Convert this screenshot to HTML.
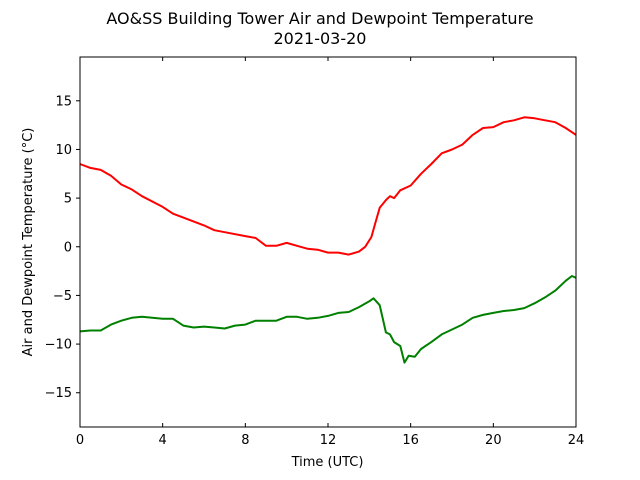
<!DOCTYPE html>
<html><head><meta charset="utf-8"><style>
body{margin:0;background:#fff;}
svg{display:block;font-family:"DejaVu Sans","Liberation Sans",sans-serif;}
</style></head><body>
<svg id="chart" width="640" height="480">
<text x="320" y="24" text-anchor="middle" font-size="16">AO&amp;SS Building Tower Air and Dewpoint Temperature</text>
<text x="320" y="44" text-anchor="middle" font-size="16">2021-03-20</text>
<text x="327.5" y="466" text-anchor="middle" font-size="13">Time (UTC)</text>
<text transform="translate(32,242) rotate(-90)" text-anchor="middle" font-size="13">Air and Dewpoint Temperature (°C)</text>
<g id="ticks"></g>
<g id="lines"></g>
<rect x="80" y="57" width="496" height="370" fill="none" stroke="#000" stroke-width="1"/>
</svg>
<script>
const xTicks=[0,4,8,12,16,20,24];
const yTicks=[-15,-10,-5,0,5,10,15];
const airHours=[0,0.5,1,1.5,2,2.5,3,4,4.5,5,6,6.5,7,8,8.5,9,9.5,10,10.5,11,11.5,12,12.5,13,13.5,13.8,14.1,14.3,14.5,14.8,15,15.2,15.5,16,16.5,17,17.5,18,18.5,19,19.5,20,20.5,21,21.5,22,22.5,23,23.5,24];
const airTemp=[8.5,8.1,7.9,7.3,6.4,5.9,5.2,4.1,3.4,3.0,2.2,1.7,1.5,1.1,0.9,0.1,0.1,0.4,0.1,-0.2,-0.3,-0.6,-0.6,-0.8,-0.5,0,1,2.5,4,4.8,5.2,5,5.8,6.3,7.5,8.5,9.6,10,10.5,11.5,12.2,12.3,12.8,13,13.3,13.2,13,12.8,12.2,11.5];
const dewHours=[0,0.5,1,1.5,2,2.5,3,3.5,4,4.5,5,5.5,6,6.5,7,7.5,8,8.5,9,9.5,10,10.5,11,11.5,12,12.5,13,13.5,14,14.2,14.5,14.8,15,15.2,15.5,15.7,15.9,16.2,16.5,17,17.5,18,18.5,19,19.5,20,20.5,21,21.5,22,22.5,23,23.5,23.8,24];
const dewTemp=[-8.7,-8.6,-8.6,-8,-7.6,-7.3,-7.2,-7.3,-7.4,-7.4,-8.1,-8.3,-8.2,-8.3,-8.4,-8.1,-8,-7.6,-7.6,-7.6,-7.2,-7.2,-7.4,-7.3,-7.1,-6.8,-6.7,-6.2,-5.6,-5.3,-6,-8.8,-9,-9.8,-10.2,-11.9,-11.2,-11.3,-10.5,-9.8,-9,-8.5,-8,-7.3,-7,-6.8,-6.6,-6.5,-6.3,-5.8,-5.2,-4.5,-3.5,-3,-3.2];
const X0=80,X1=576,Y0=427,Y1=57,xMin=0,xMax=24,yMin=-18.52,yMax=19.5;
const xs=h=>X0+(h-xMin)/(xMax-xMin)*(X1-X0);
const ys=v=>Y0-(v-yMin)/(yMax-yMin)*(Y0-Y1);
const NS="http://www.w3.org/2000/svg";
const tg=document.getElementById('ticks'),lg=document.getElementById('lines');
function mk(t,a,p){const e=document.createElementNS(NS,t);for(const k in a)e.setAttribute(k,a[k]);p.appendChild(e);return e;}
xTicks.forEach(t=>{const x=xs(t);
 const a=mk('line',{x1:x,x2:x,y1:Y0,y2:Y0-4,stroke:'#000'},tg);
 
 
 const b=mk('line',{x1:x,x2:x,y1:Y1,y2:Y1+4,stroke:'#000'},tg);
 
 
 const l=mk('text',{x:x,y:Y0+17,'text-anchor':'middle','font-size':13},tg);l.textContent=t;
 
 
});
yTicks.forEach(t=>{const y=ys(t);
 const a=mk('line',{x1:X0,x2:X0-4,y1:y,y2:y,stroke:'#000'},tg);
 
 
 const l=mk('text',{x:X0-8,y:y+4.5,'text-anchor':'end','font-size':13},tg);l.textContent=t<0?'\u2212'+(-t):t;
 
 
});
function line(hs,vs,c,n){const d=hs.map((h,i)=>(i?'L':'M')+xs(h).toFixed(1)+','+ys(vs[i]).toFixed(1)).join('');
 const p=mk('path',{d:d,fill:'none',stroke:c,'stroke-width':2,'stroke-linejoin':'round'},lg);
 
 }
line(airHours,airTemp,'#ff0000','air-temperature-line');
line(dewHours,dewTemp,'#008000','dewpoint-temperature-line');
</script>
</body></html>
